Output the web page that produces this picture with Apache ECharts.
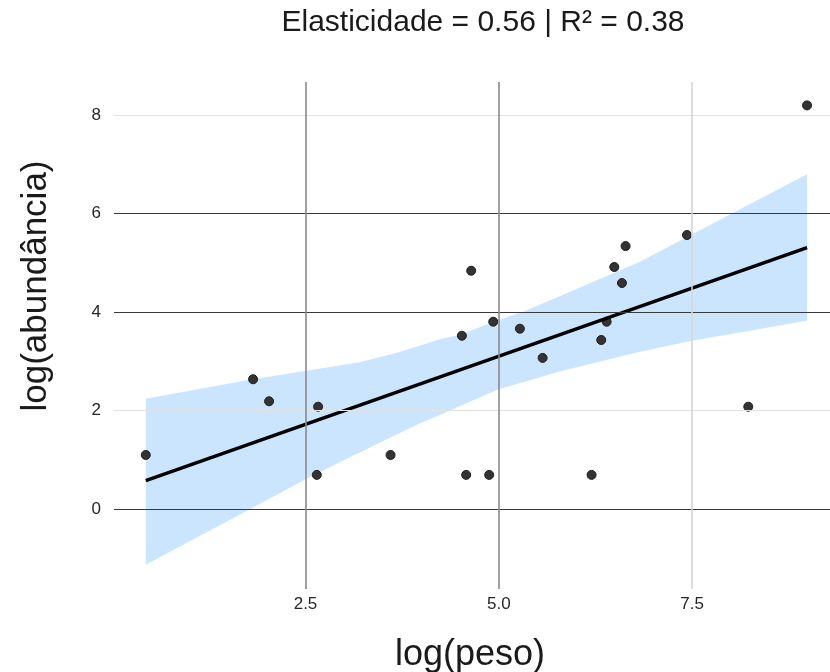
<!DOCTYPE html>
<html>
<head>
<meta charset="utf-8">
<script src="https://cdn.jsdelivr.net/npm/echarts@6/dist/echarts.min.js"></script>
<style>html,body{margin:0;padding:0;background:#fff}#c{width:830px;height:672px}</style>
</head>
<body>
<div id="c"></div>
<script>
// Observed points: log(peso), log(abundância)
const pesoLog  = [0.434, 1.822, 2.029, 2.663, 2.646, 3.60, 4.523, 4.578, 4.643, 4.876, 4.928, 5.273, 5.567, 6.20, 6.325, 6.395, 6.494, 6.593, 6.64, 7.434, 8.227, 8.987];
const abundLog = [1.10, 2.637, 2.19, 2.08, 0.696, 1.10, 3.52, 0.696, 4.84, 0.696, 3.805, 3.663, 3.07, 0.696, 3.434, 3.805, 4.915, 4.59, 5.34, 5.564, 2.08, 8.195];
// Fitted line endpoints
const fitX = [0.434, 8.987];
const fitY = [0.58, 5.31];
// Confidence band edges
const bandUpperX = [0.434, 1.78, 2.513, 3.20, 3.72, 4.238, 4.497, 4.997, 5.316, 6.05, 6.826, 7.99, 8.987];
const bandUpperY = [2.243, 2.625, 2.81, 2.98, 3.19, 3.45, 3.54, 3.84, 4.008, 4.50, 5.02, 5.98, 6.80];
const bandLowerX = [0.434, 1.78, 2.513, 3.20, 3.98, 4.238, 4.497, 4.997, 5.80, 6.826, 7.499, 8.987];
const bandLowerY = [-1.13, 0.0, 0.62, 1.15, 1.744, 1.913, 2.095, 2.434, 2.80, 3.197, 3.42, 3.826];
// Ticks
const xTicks = [2.5, 5.0, 7.5];
const xTickLabels = ['2.5', '5.0', '7.5'];
const yTicks = [0, 2, 4, 6, 8];
const titleText = 'Elasticidade = 0.56 | R² = 0.38';
const xName = 'log(peso)';
const yName = 'log(abundância)';

const FONT = '"Liberation Sans", Arial, sans-serif';
const chart = echarts.init(document.getElementById('c'), null, {renderer: 'canvas'});

const scatterData = pesoLog.map((x, i) => [x, abundLog[i]]);
const fitData = fitX.map((x, i) => [x, fitY[i]]);
const upperPts = bandUpperX.map((x, i) => [x, bandUpperY[i]]);
const lowerPts = bandLowerX.map((x, i) => [x, bandLowerY[i]]);

const yGridStyle = {0: '#3a3a3a', 2: '#e2e2e2', 4: '#3a3a3a', 6: '#3a3a3a', 8: '#e2e2e2'};
const xGridStyle = {2.5: '#8a8a8a', 5: '#8a8a8a', 7.5: '#d6d6d6'};

const gridLines = [];
yTicks.forEach(v => gridLines.push({yAxis: v, lineStyle: {color: yGridStyle[v], width: 1, type: 'solid'}}));
xTicks.forEach(v => gridLines.push({xAxis: v, lineStyle: {color: xGridStyle[v], width: 1.6, type: 'solid'}}));

const option = {
  animation: false,
  backgroundColor: '#ffffff',
  grid: {left: 114, right: 0, top: 82, bottom: 83, containLabel: false},
  xAxis: {
    type: 'value', min: 0.023, max: 9.284,
    axisLine: {show: false}, axisTick: {show: false}, splitLine: {show: false},
    axisLabel: {
      customValues: xTicks,
      formatter: v => { const i = xTicks.findIndex(t => Math.abs(t - v) < 1e-6); return i >= 0 ? xTickLabels[i] : ''; },
      color: '#262626', fontSize: 17, fontFamily: FONT, margin: 7
    }
  },
  yAxis: {
    type: 'value', min: -1.62, max: 8.67,
    axisLine: {show: false}, axisTick: {show: false}, splitLine: {show: false},
    axisLabel: {
      customValues: yTicks,
      formatter: v => yTicks.some(t => Math.abs(t - v) < 1e-6) ? String(Math.round(v)) : '',
      color: '#262626', fontSize: 17, fontFamily: FONT, margin: 13
    }
  },
  graphic: [
    {type: 'text', position: [483, 23], style: {text: titleText, font: '30px ' + FONT, fill: '#1a1a1a', textAlign: 'center', textVerticalAlign: 'middle'}},
    {type: 'text', position: [470, 655], style: {text: xName, font: '36px ' + FONT, fill: '#1a1a1a', textAlign: 'center', textVerticalAlign: 'middle'}},
    {type: 'text', position: [36, 286], rotation: Math.PI / 2, style: {text: yName, font: '35px ' + FONT, fill: '#1a1a1a', textAlign: 'center', textVerticalAlign: 'middle'}}
  ],
  series: [
    {
      type: 'line', data: [], silent: true, z: 1,
      markLine: {silent: true, symbol: 'none', label: {show: false}, animation: false, data: gridLines}
    },
    {
      type: 'custom', z: 2, silent: true,
      data: [upperPts[0]],
      renderItem: function (params, api) {
        const pts = upperPts.map(p => api.coord(p)).concat(lowerPts.slice().reverse().map(p => api.coord(p)));
        return {type: 'polygon', shape: {points: pts}, style: {fill: 'rgba(153,204,255,0.5)', stroke: null}};
      }
    },
    {
      type: 'scatter', z: 3, data: scatterData, symbolSize: 9,
      itemStyle: {color: '#333333', borderColor: '#1f1f1f', borderWidth: 1, opacity: 1}
    },
    {
      type: 'line', z: 4, data: fitData, showSymbol: false, symbol: 'none',
      lineStyle: {color: '#000000', width: 3.5}
    }
  ]
};
chart.setOption(option);
</script>
</body>
</html>
